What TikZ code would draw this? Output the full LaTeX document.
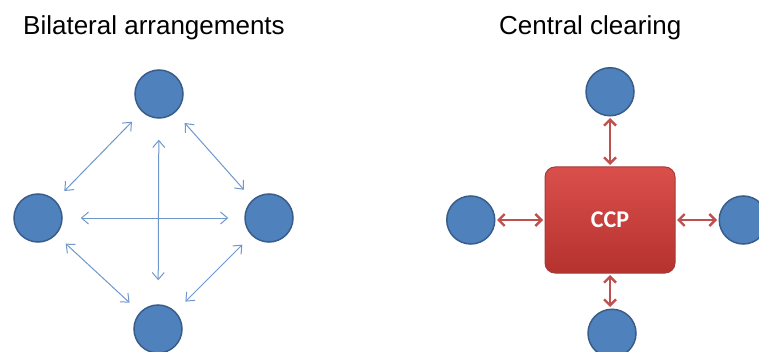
\documentclass[tikz,border=0pt]{standalone}
\usepackage{fontspec}
\setmainfont{Liberation Sans}
\newfontfamily\ccpfont{Carlito}
\usepackage{tikz}
\usetikzlibrary{positioning, arrows.meta}
\usepackage{xcolor}

\definecolor{partyblue}{HTML}{4F81BD}
\definecolor{partyedge}{HTML}{385D8A}
\definecolor{linkblue}{HTML}{6F97CB}
\definecolor{ccpred}{HTML}{C0504D}
\definecolor{ccpedge}{HTML}{A33B38}
\definecolor{ccptop}{HTML}{DA4F4B}
\definecolor{ccpbottom}{HTML}{B5322F}

\begin{document}
\begin{tikzpicture}[
    x=1pt, y=1pt,
    party/.style={circle, draw=partyedge, fill=partyblue, line width=1.5pt, minimum size=48pt, inner sep=0pt},
    title/.style={anchor=base west, inner sep=0pt, font=\fontsize{26}{30}\selectfont},
    link/.style={{Straight Barb[length=7pt, width=12pt]}-{Straight Barb[length=7pt, width=12pt]}, linkblue, line width=1pt, shorten <=14pt, shorten >=13pt},
    clearlink/.style={{Straight Barb[length=6pt, width=12pt]}-{Straight Barb[length=6pt, width=12pt]}, ccpred, line width=2.4pt, shorten <=1.5pt, shorten >=1.5pt},
    ccpbox/.style={draw=ccpedge, line width=1pt, rounded corners=10pt, top color=ccptop, bottom color=ccpbottom, minimum width=130pt, minimum height=106pt, text=white, font=\ccpfont\bfseries\fontsize{24}{28}\selectfont},
]
    \useasboundingbox (0,0) rectangle (759,351);

    % Titles
    \node[title] (bilateral) at (23,316) {Bilateral arrangements};
    \node[title] (central) at (499,316) {Central clearing};

    % Bilateral arrangements
    \node[party] (btop) at (159,257) {};
    \node[party] (bleft) at (38,133) {};
    \node[party] (bright) at (269,133) {};
    \node[party] (bbottom) at (158,22) {};

    \draw[link] (btop) -- (bleft);
    \draw[link] (btop) -- (bright);
    \draw[link] (bbottom) -- (bleft);
    \draw[link] (bbottom) -- (bright);
    \draw[link, shorten <=18pt, shorten >=16pt] (bleft) -- (bright);
    \draw[link, shorten <=21pt, shorten >=24pt] (btop) -- (bbottom);

    % Central clearing
    \node[ccpbox] (ccp) at (610,131) {CCP};
    \node[party, above=50pt of ccp] (ctop) {};
    \node[party, left=49pt of ccp] (cleft) {};
    \node[party, right=43pt of ccp] (cright) {};
    \node[party, below=35pt of ccp, xshift=2pt] (cbottom) {};

    \draw[clearlink] (ctop) -- (ccp);
    \draw[clearlink] (cleft) -- (ccp);
    \draw[clearlink] (cright) -- (ccp);
    \draw[clearlink] (cbottom.north -| ccp.south) -- (ccp);

\end{tikzpicture}
\end{document}
